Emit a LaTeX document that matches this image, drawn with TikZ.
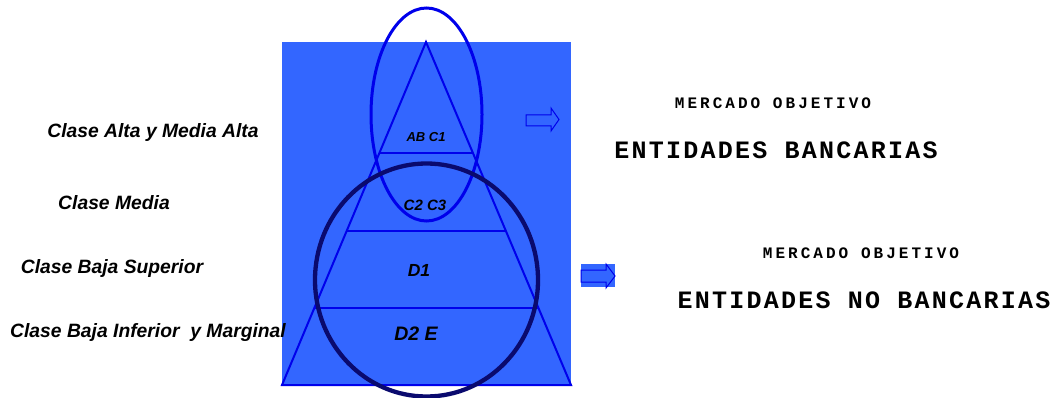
\documentclass[tikz,border=0pt]{standalone}
\usepackage{fontspec}
\setmainfont{Liberation Sans}
\newfontfamily\monob[LetterSpace=19]{Liberation Mono}
\newfontfamily\monobig[LetterSpace=9]{Liberation Mono}
\usetikzlibrary{calc}
\definecolor{bgblue}{RGB}{51,102,255}
\definecolor{lineblue}{RGB}{0,0,235}
\definecolor{navy}{RGB}{10,10,110}
\tikzset{
  lbl/.style={font=\fontsize{19.3}{20}\selectfont\bfseries\itshape, inner sep=0pt},
  inl/.style={font=\bfseries\itshape, inner sep=0pt},
  small/.style={font=\fontsize{16}{18}\selectfont\monob\bfseries, inner sep=0pt},
  big/.style={font=\fontsize{25}{28}\selectfont\monobig\bfseries, inner sep=0pt},
  tri/.style={draw=lineblue, line width=2pt},
  arr/.style={draw=lineblue, line width=1pt, line join=miter}
}
\begin{document}
\begin{tikzpicture}[x=1pt,y=-1pt]
\useasboundingbox (0,0) rectangle (1056,398);
\fill[bgblue] (282,42) rectangle (571,386);
% triangle
\coordinate (apex) at (426,42);
\coordinate (bl) at (282,385);
\coordinate (br) at (571,385);
\draw[tri] (apex) -- (bl) -- (br) -- cycle;
\foreach \yy/\nm in {153/a,231/b,308/c}{
  \coordinate (l\nm) at ($(apex)!{(\yy-42)/343}!(bl)$);
  \coordinate (r\nm) at ($(apex)!{(\yy-42)/343}!(br)$);
  \draw[tri] (l\nm) -- (r\nm);
}
% ellipse and circle
\draw[lineblue, line width=3pt] (426.5,114.5) ellipse [x radius=55.5, y radius=106.5];
\draw[navy, line width=4.3pt] (426.5,280) ellipse [x radius=111.5, y radius=116.5];
% inner labels
\node[inl, font=\fontsize{13}{14}\selectfont\bfseries\itshape] (ab) at (426,137) {AB C1};
\node[inl, font=\fontsize{15}{16}\selectfont\bfseries\itshape] (c2) at (425,205) {C2 C3};
\node[inl, font=\fontsize{17.5}{18}\selectfont\bfseries\itshape] (d1) at (419,270) {D1};
\node[inl, font=\fontsize{19.5}{20}\selectfont\bfseries\itshape] (d2) at (416,334) {D2 E};
% left labels
\node[lbl] (alta) at (153,133) {Clase Alta y Media Alta};
\node[lbl] (media) at (114,203) {Clase Media};
\node[lbl] (bajas) at (112,269) {Clase Baja Superior};
\node[lbl] (bajai) at (148,333) {Clase Baja Inferior\ \ y Marginal};
% arrows
\draw[arr] (526,115) -- (551,115) -- (551,108) -- (559,119.5) -- (551,131) -- (551,126) -- (526,126) -- cycle;
\fill[bgblue] (581,264) rectangle (615,287);
\draw[arr] (581,270) -- (606,270) -- (606,264) -- (615,276) -- (606,288) -- (606,282) -- (581,282) -- cycle;
% right texts
\node[small] (m1) at (773,103) {MERCADO OBJETIVO};
\node[big] (e1) at (776,150) {ENTIDADES BANCARIAS};
\node[small] (m2) at (861,253) {MERCADO OBJETIVO};
\node[big] (e2) at (864,300) {ENTIDADES NO BANCARIAS};
\end{tikzpicture}
\end{document}
